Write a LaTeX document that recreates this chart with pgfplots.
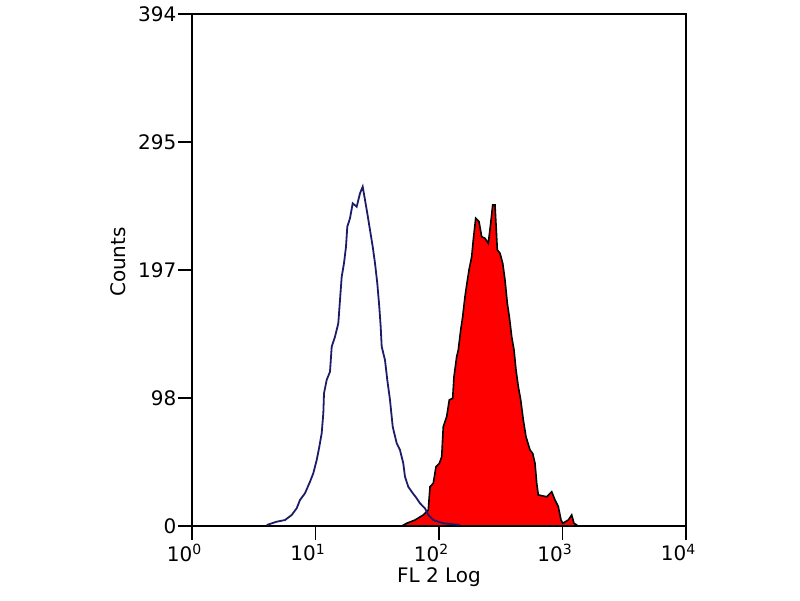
\documentclass[border=0pt]{standalone}
\usepackage{fontspec}
\setmainfont{DejaVu Sans}
\usepackage{pgfplots}
\usepackage{pgfplotstable}
\pgfplotsset{compat=1.18}
\definecolor{isoblue}{RGB}{28,28,105}
\newcommand{\tl}[1]{10\raisebox{6.5pt}{\fontsize{14}{14}\selectfont #1}}
\pgfplotstableread{
x y
4.03 0.8
4.85 3.3
5.66 4.6
6.42 8.5
7.04 13.6
7.49 20.0
8.22 25.2
9.03 34.1
9.60 40.6
10.23 50.8
10.74 61.0
11.22 71.3
11.57 86.7
11.72 102.1
12.32 112.4
13.10 118.7
13.53 138.0
14.39 145.7
15.30 156.0
15.79 173.9
16.30 191.8
17.01 202.2
17.66 214.9
18.09 230.3
19.03 236.8
20.01 248.3
21.56 245.7
22.93 256.0
24.11 261.1
25.17 250.9
26.27 240.6
27.63 227.8
29.06 214.9
30.33 202.2
31.65 186.8
32.85 168.8
33.72 153.4
34.36 138.0
36.54 127.7
38.14 112.4
40.11 97.0
42.19 76.4
45.46 63.6
48.32 58.5
51.39 48.2
53.04 37.9
56.40 30.2
60.10 26.4
65.98 21.3
70.18 17.5
77.03 13.6
81.91 8.5
89.92 4.6
108.3 2.1
147.9 0.8
}\isotype
\pgfplotstableread{
x y
50.0 0
54.77 2.1
63.93 4.6
74.64 8.5
81.91 12.3
84.56 30.2
89.92 32.9
94.56 45.6
100.6 48.2
105.2 53.3
108.3 76.4
115.4 84.1
121.2 97.0
129.1 98.3
132.3 114.9
139.1 130.3
143.3 135.4
149.9 150.8
155.6 161.1
162.4 176.5
167.6 185.5
175.0 197.0
184.0 207.2
189.6 220.1
198.3 236.8
210.9 234.2
221.7 222.6
235.8 221.4
250.7 217.5
262.2 232.9
272.2 247.0
284.1 247.0
296.6 212.4
311.9 209.9
328.0 202.2
342.3 189.3
357.3 171.4
370.9 161.1
387.9 145.7
404.9 135.4
420.3 120.0
438.7 107.2
458.7 97.0
481.5 81.6
506.4 68.7
545.7 58.5
573.8 55.9
598.9 48.2
618.2 32.9
636.8 23.9
744.9 22.5
817.8 26.4
869.7 20.0
924.8 14.9
972.5 4.6
1003.7 2.1
1114 4.6
1187 8.5
1239 2.1
1303 0.8
1320 0
}\stained
\begin{document}
\begin{tikzpicture}
\begin{axis}[
  at={(0pt,0pt)}, anchor=south west,
  scale only axis, width=494pt, height=512pt,
  xmode=log, xmin=1, xmax=10000, ymin=0, ymax=394,
  xtick={1,10,100,1000,10000},
  xticklabels={\tl{0},\tl{1},\tl{2},\tl{3},\tl{4}},
  xminorticks=false,
  ytick={0,98.5,197,295.5,394},
  yticklabels={0,98,197,295,394},
  tick pos=left, tick align=outside, major tick length=14pt,
  tick style={line width=1.8pt, black},
  axis line style={line width=1.9pt},
  every axis/.append style={line width=1.9pt},
  tick label style={font=\fontsize{20}{24}\selectfont},
  xticklabel style={xshift=-8pt},
  yticklabel style={xshift=2.5pt},
  label style={font=\fontsize{20}{24}\selectfont},
  xlabel={FL 2 Log},
  xlabel style={at={(axis description cs:0.5,-0.1113)}, anchor=base},
  ylabel={Counts},
  ylabel style={at={(axis description cs:-0.1356,0.5156)}, anchor=base, rotate=0},
  clip=true,
]
\addplot[draw=black, fill=red, line width=1.6pt, line join=miter] table[x=x,y=y] {\stained} \closedcycle;
\addplot[draw=isoblue, line width=1.8pt, line join=miter] table[x=x,y=y] {\isotype};
\end{axis}
\pgfresetboundingbox
\path (-192pt,-74pt) rectangle (608pt,526pt);
\end{tikzpicture}
\end{document}
